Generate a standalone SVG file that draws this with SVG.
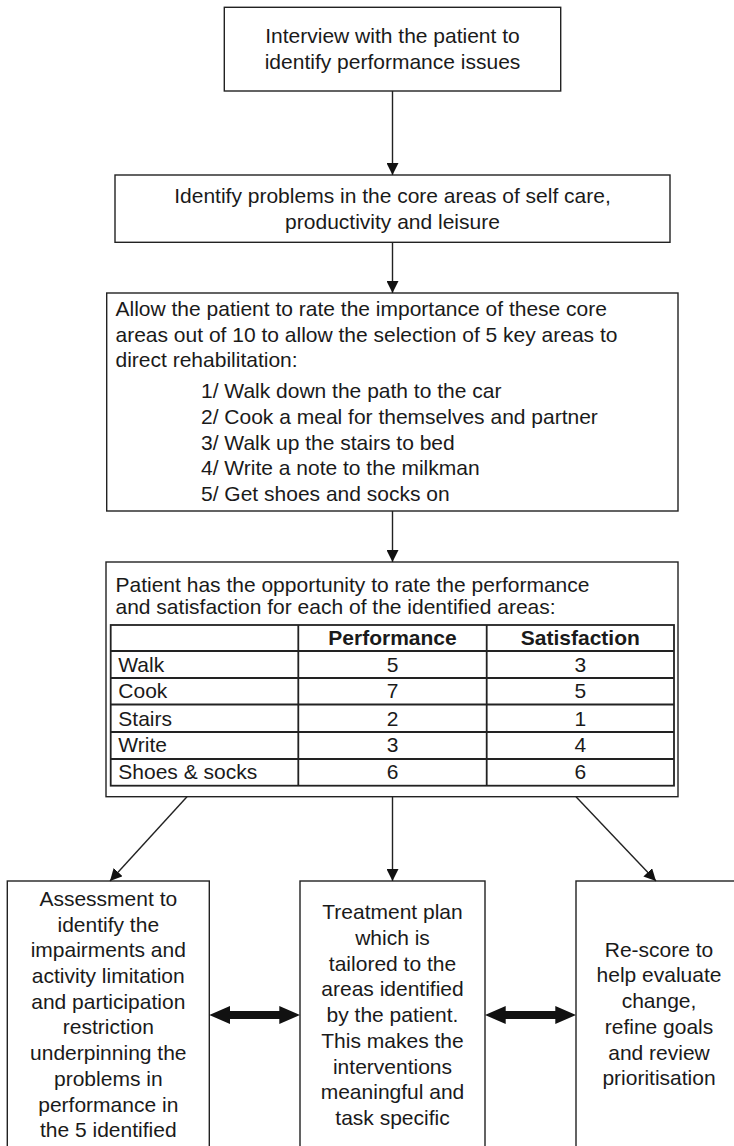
<svg xmlns="http://www.w3.org/2000/svg" width="734" height="1146" viewBox="0 0 734 1146">
<defs>
<style>
.box{fill:#fff;stroke:#222;stroke-width:1.4}
.tbl{fill:none;stroke:#222;stroke-width:1.8}
.t{font-family:"Liberation Sans",Arial,Helvetica,sans-serif;font-size:21px;fill:#1a1a1a}
.c{text-anchor:middle}
.b{font-weight:bold}
.con{stroke:#222;stroke-width:1.4;fill:none}
.dbl{fill:#111;stroke:none}
</style>
<marker id="ah" viewBox="0 0 12 12" refX="12" refY="6" markerWidth="12" markerHeight="12" markerUnits="userSpaceOnUse" orient="auto">
<path d="M0,0 L12,6 L0,12 z" fill="#111"/>
</marker>
</defs>
<rect width="734" height="1146" fill="#fff"/>

<g id="interview">
<rect class="box" x="224.3" y="7.3" width="336.4" height="83.7"/>
<text class="t c" x="392.5" y="43.3">Interview with the patient to</text>
<text class="t c" x="392.5" y="68.5">identify performance issues</text>
</g>

<g id="identify">
<rect class="box" x="115" y="175" width="555" height="67.3"/>
<text class="t c" x="392.5" y="203.3">Identify problems in the core areas of self care,</text>
<text class="t c" x="392.5" y="229">productivity and leisure</text>
</g>

<g id="rate-importance">
<rect class="box" x="106.7" y="293" width="571.3" height="218"/>
<text class="t" x="115.5" y="315.5">Allow the patient to rate the importance of these core</text>
<text class="t" x="115.5" y="341.5">areas out of 10 to allow the selection of 5 key areas to</text>
<text class="t" x="115.5" y="367.3">direct rehabilitation:</text>
<text class="t" x="201" y="398.3">1/ Walk down the path to the car</text>
<text class="t" x="201" y="424">2/ Cook a meal for themselves and partner</text>
<text class="t" x="201" y="449.6">3/ Walk up the stairs to bed</text>
<text class="t" x="201" y="475.3">4/ Write a note to the milkman</text>
<text class="t" x="201" y="501">5/ Get shoes and socks on</text>
</g>

<g id="rate-performance">
<rect class="box" x="106" y="562" width="572" height="234.7"/>
<text class="t" x="115.5" y="591.7">Patient has the opportunity to rate the performance</text>
<text class="t" x="115.5" y="614">and satisfaction for each of the identified areas:</text>
<rect class="tbl" x="110.7" y="625" width="563.3" height="160.7"/>
<line class="tbl" x1="298.3" y1="625" x2="298.3" y2="785.7"/>
<line class="tbl" x1="486.7" y1="625" x2="486.7" y2="785.7"/>
<line class="tbl" x1="110.7" y1="651" x2="674" y2="651"/>
<line class="tbl" x1="110.7" y1="678" x2="674" y2="678"/>
<line class="tbl" x1="110.7" y1="704.5" x2="674" y2="704.5"/>
<line class="tbl" x1="110.7" y1="732" x2="674" y2="732"/>
<line class="tbl" x1="110.7" y1="759" x2="674" y2="759"/>
<text class="t c b" x="392.5" y="645">Performance</text>
<text class="t c b" x="580.3" y="645">Satisfaction</text>
<text class="t" x="118.3" y="671.7">Walk</text>
<text class="t c" x="392.5" y="671.7">5</text>
<text class="t c" x="580.3" y="671.7">3</text>
<text class="t" x="118.3" y="698">Cook</text>
<text class="t c" x="392.5" y="698">7</text>
<text class="t c" x="580.3" y="698">5</text>
<text class="t" x="118.3" y="725.7">Stairs</text>
<text class="t c" x="392.5" y="725.7">2</text>
<text class="t c" x="580.3" y="725.7">1</text>
<text class="t" x="118.3" y="752.3">Write</text>
<text class="t c" x="392.5" y="752.3">3</text>
<text class="t c" x="580.3" y="752.3">4</text>
<text class="t" x="118.3" y="779">Shoes &amp; socks</text>
<text class="t c" x="392.5" y="779">6</text>
<text class="t c" x="580.3" y="779">6</text>
</g>

<g id="assessment">
<rect class="box" x="7.3" y="881" width="202" height="275"/>
<text class="t c" x="108.3" y="906">Assessment to</text>
<text class="t c" x="108.3" y="931.7">identify the</text>
<text class="t c" x="108.3" y="957.3">impairments and</text>
<text class="t c" x="108.3" y="983">activity limitation</text>
<text class="t c" x="108.3" y="1008.7">and participation</text>
<text class="t c" x="108.3" y="1034.4">restriction</text>
<text class="t c" x="108.3" y="1060">underpinning the</text>
<text class="t c" x="108.3" y="1085.8">problems in</text>
<text class="t c" x="108.3" y="1111.5">performance in</text>
<text class="t c" x="108.3" y="1137.2">the 5 identified</text>
</g>

<g id="treatment">
<rect class="box" x="300" y="881" width="185" height="275"/>
<text class="t c" x="392.5" y="919.3">Treatment plan</text>
<text class="t c" x="392.5" y="945">which is</text>
<text class="t c" x="392.5" y="970.7">tailored to the</text>
<text class="t c" x="392.5" y="996.4">areas identified</text>
<text class="t c" x="392.5" y="1022">by the patient.</text>
<text class="t c" x="392.5" y="1047.8">This makes the</text>
<text class="t c" x="392.5" y="1073.5">interventions</text>
<text class="t c" x="392.5" y="1099.2">meaningful and</text>
<text class="t c" x="392.5" y="1124.9">task specific</text>
</g>

<g id="rescore">
<rect class="box" x="576" y="881" width="166" height="275"/>
<text class="t c" x="659" y="956.7">Re-score to</text>
<text class="t c" x="659" y="982.4">help evaluate</text>
<text class="t c" x="659" y="1008.1">change,</text>
<text class="t c" x="659" y="1033.8">refine goals</text>
<text class="t c" x="659" y="1059.5">and review</text>
<text class="t c" x="659" y="1085.2">prioritisation</text>
</g>

<g id="connectors">
<line class="con" x1="392.5" y1="91" x2="392.5" y2="175" marker-end="url(#ah)"/>
<line class="con" x1="392.5" y1="242.3" x2="392.5" y2="293" marker-end="url(#ah)"/>
<line class="con" x1="392.5" y1="511" x2="392.5" y2="562" marker-end="url(#ah)"/>
<line class="con" x1="187" y1="796.7" x2="110" y2="881" marker-end="url(#ah)"/>
<line class="con" x1="392.5" y1="796.7" x2="392.5" y2="881" marker-end="url(#ah)"/>
<line class="con" x1="576" y1="796.7" x2="656" y2="881" marker-end="url(#ah)"/>
<polygon class="dbl" points="209.3,1015 230,1006 230,1011 279.3,1011 279.3,1006 300,1015 279.3,1024 279.3,1019 230,1019 230,1024"/>
<polygon class="dbl" points="485,1015 505.7,1006 505.7,1011 555.3,1011 555.3,1006 576,1015 555.3,1024 555.3,1019 505.7,1019 505.7,1024"/>
</g>
</svg>
